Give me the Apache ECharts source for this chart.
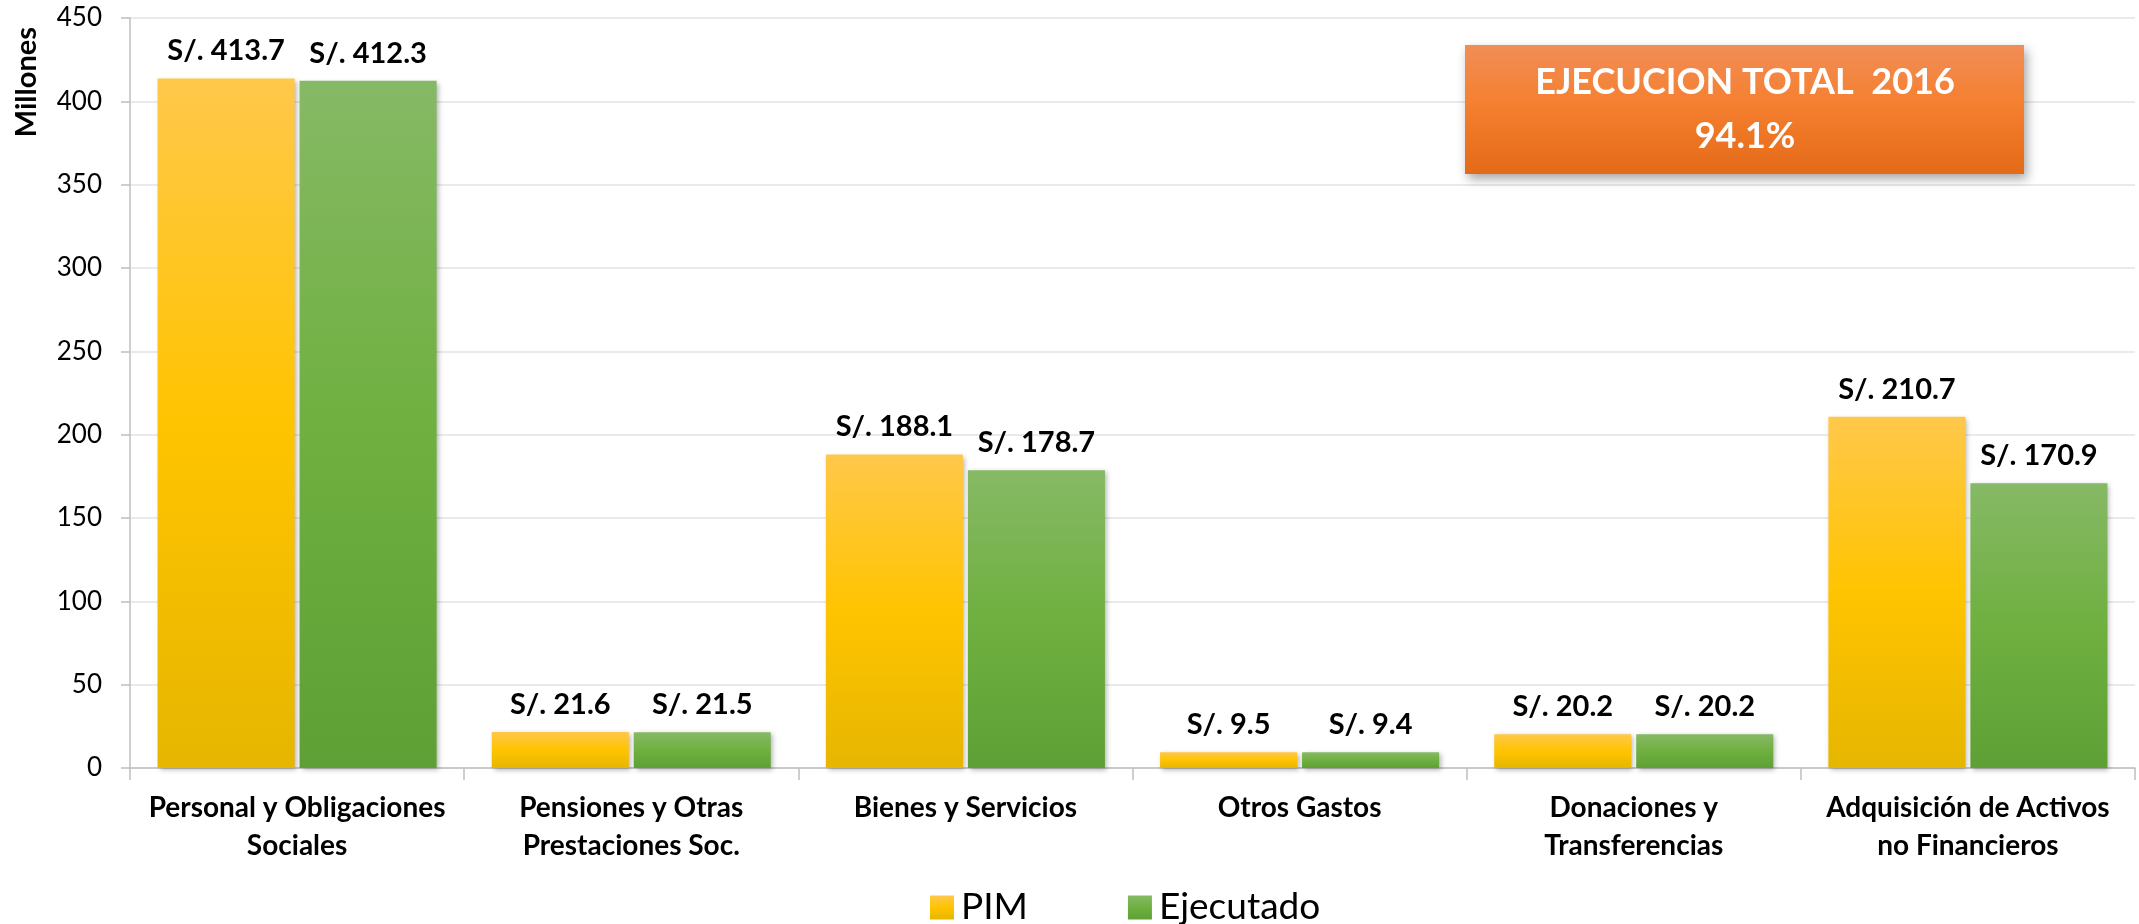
<!DOCTYPE html>
<html>
<head>
<meta charset="utf-8">
<script src="https://cdn.jsdelivr.net/npm/echarts@6/dist/echarts.min.js"></script>
<style>
html,body{margin:0;padding:0;background:#fff;}
#main{width:2139px;height:924px;}
</style>
</head>
<body>
<div id="main"></div>
<script>
const categories = [
  'Personal y Obligaciones\nSociales',
  'Pensiones y Otras\nPrestaciones Soc.',
  'Bienes y Servicios',
  'Otros Gastos',
  'Donaciones y\nTransferencias',
  'Adquisición de Activos\nno Financieros'
];
const pimValues = [413.7, 21.6, 188.1, 9.5, 20.2, 210.7];
const ejecutadoValues = [412.3, 21.5, 178.7, 9.4, 20.2, 170.9];
const yTicks = {min: 0, max: 450, interval: 50};
const boxTitle = 'EJECUCION TOTAL  2016';
const boxValue = '94.1%';
const yName = 'Millones';

const FONT = 'Lato';
const chart = echarts.init(document.getElementById('main'), null, {renderer: 'canvas'});

function grad(c0, c1, c2) {
  return new echarts.graphic.LinearGradient(0, 0, 0, 1, [
    {offset: 0, color: c0}, {offset: 0.5, color: c1}, {offset: 1, color: c2}
  ]);
}
const pimColor = grad('#FFC84A', '#FFC400', '#E6B600');
const ejeColor = grad('#86B965', '#6FB040', '#5FA036');

const labelCfg = {
  show: true,
  position: 'top',
  distance: 13,
  fontFamily: FONT,
  fontWeight: 'bold',
  fontSize: 29,
  color: '#000',
  formatter: p => 'S/. ' + p.value.toFixed(1)
};

chart.setOption({
  animation: false,
  backgroundColor: '#fff',
  textStyle: {fontFamily: FONT},
  grid: {left: 130, right: 4, top: 18, bottom: 156, containLabel: false},
  legend: {
    left: 925,
    top: 884,
    itemWidth: 24,
    itemHeight: 24,
    itemGap: 100,
    textStyle: {fontFamily: FONT, fontSize: 37, color: '#000', padding: [0, 0, 0, 2]},
    data: [
      {name: 'PIM', icon: 'rect'},
      {name: 'Ejecutado', icon: 'rect'}
    ]
  },
  xAxis: {
    type: 'category',
    data: categories,
    axisLine: {lineStyle: {color: '#BFBFBF', width: 1.5}},
    axisTick: {show: true, length: 12, lineStyle: {color: '#BFBFBF', width: 1.5}},
    axisLabel: {
      interval: 0,
      margin: 21,
      fontFamily: FONT,
      fontWeight: 'bold',
      fontSize: 28,
      lineHeight: 38,
      color: '#000'
    }
  },
  yAxis: {
    type: 'value',
    min: yTicks.min,
    max: yTicks.max,
    interval: yTicks.interval,
    axisLine: {show: true, lineStyle: {color: '#BFBFBF', width: 1.5}},
    axisTick: {show: true, length: 9, lineStyle: {color: '#BFBFBF', width: 1.5}},
    axisLabel: {margin: 28, fontFamily: FONT, fontSize: 26, color: '#000'},
    splitLine: {lineStyle: {color: '#E3E3E3', width: 1.5}}
  },
  series: [
    {
      name: 'PIM',
      type: 'bar',
      data: pimValues,
      barGap: '3.6%',
      barCategoryGap: '16.5%',
      itemStyle: {color: pimColor, shadowBlur: 5, shadowOffsetX: 2, shadowOffsetY: 2, shadowColor: 'rgba(0,0,0,0.3)'},
      label: labelCfg
    },
    {
      name: 'Ejecutado',
      type: 'bar',
      data: ejecutadoValues,
      itemStyle: {color: ejeColor, shadowBlur: 5, shadowOffsetX: 2, shadowOffsetY: 2, shadowColor: 'rgba(0,0,0,0.3)'},
      label: labelCfg
    }
  ],
  graphic: [
    {
      type: 'text',
      left: 12,
      top: 27,
      rotation: Math.PI / 2,
      style: {
        text: yName,
        fontFamily: FONT,
        fontWeight: 'bold',
        fontSize: 29,
        fill: '#000'
      },
      z: 10
    },
    {
      type: 'rect',
      shape: {x: 1465, y: 45, width: 559, height: 129},
      style: {
        fill: new echarts.graphic.LinearGradient(0, 0, 0, 1, [
          {offset: 0, color: '#F18D57'},
          {offset: 0.45, color: '#F58030'},
          {offset: 1, color: '#E46A17'}
        ]),
        shadowBlur: 10,
        shadowOffsetX: 3,
        shadowOffsetY: 5,
        shadowColor: 'rgba(0,0,0,0.35)'
      },
      z: 20
    },
    {
      type: 'text',
      x: 1745,
      y: 82,
      style: {
        text: boxTitle,
        fontFamily: FONT,
        fontWeight: 'bold',
        fontSize: 36,
        fill: '#fff',
        align: 'center',
        verticalAlign: 'middle'
      },
      z: 21
    },
    {
      type: 'text',
      x: 1745,
      y: 136,
      style: {
        text: boxValue,
        fontFamily: FONT,
        fontWeight: 'bold',
        fontSize: 36,
        fill: '#fff',
        align: 'center',
        verticalAlign: 'middle'
      },
      z: 21
    }
  ]
});
</script>
</body>
</html>
